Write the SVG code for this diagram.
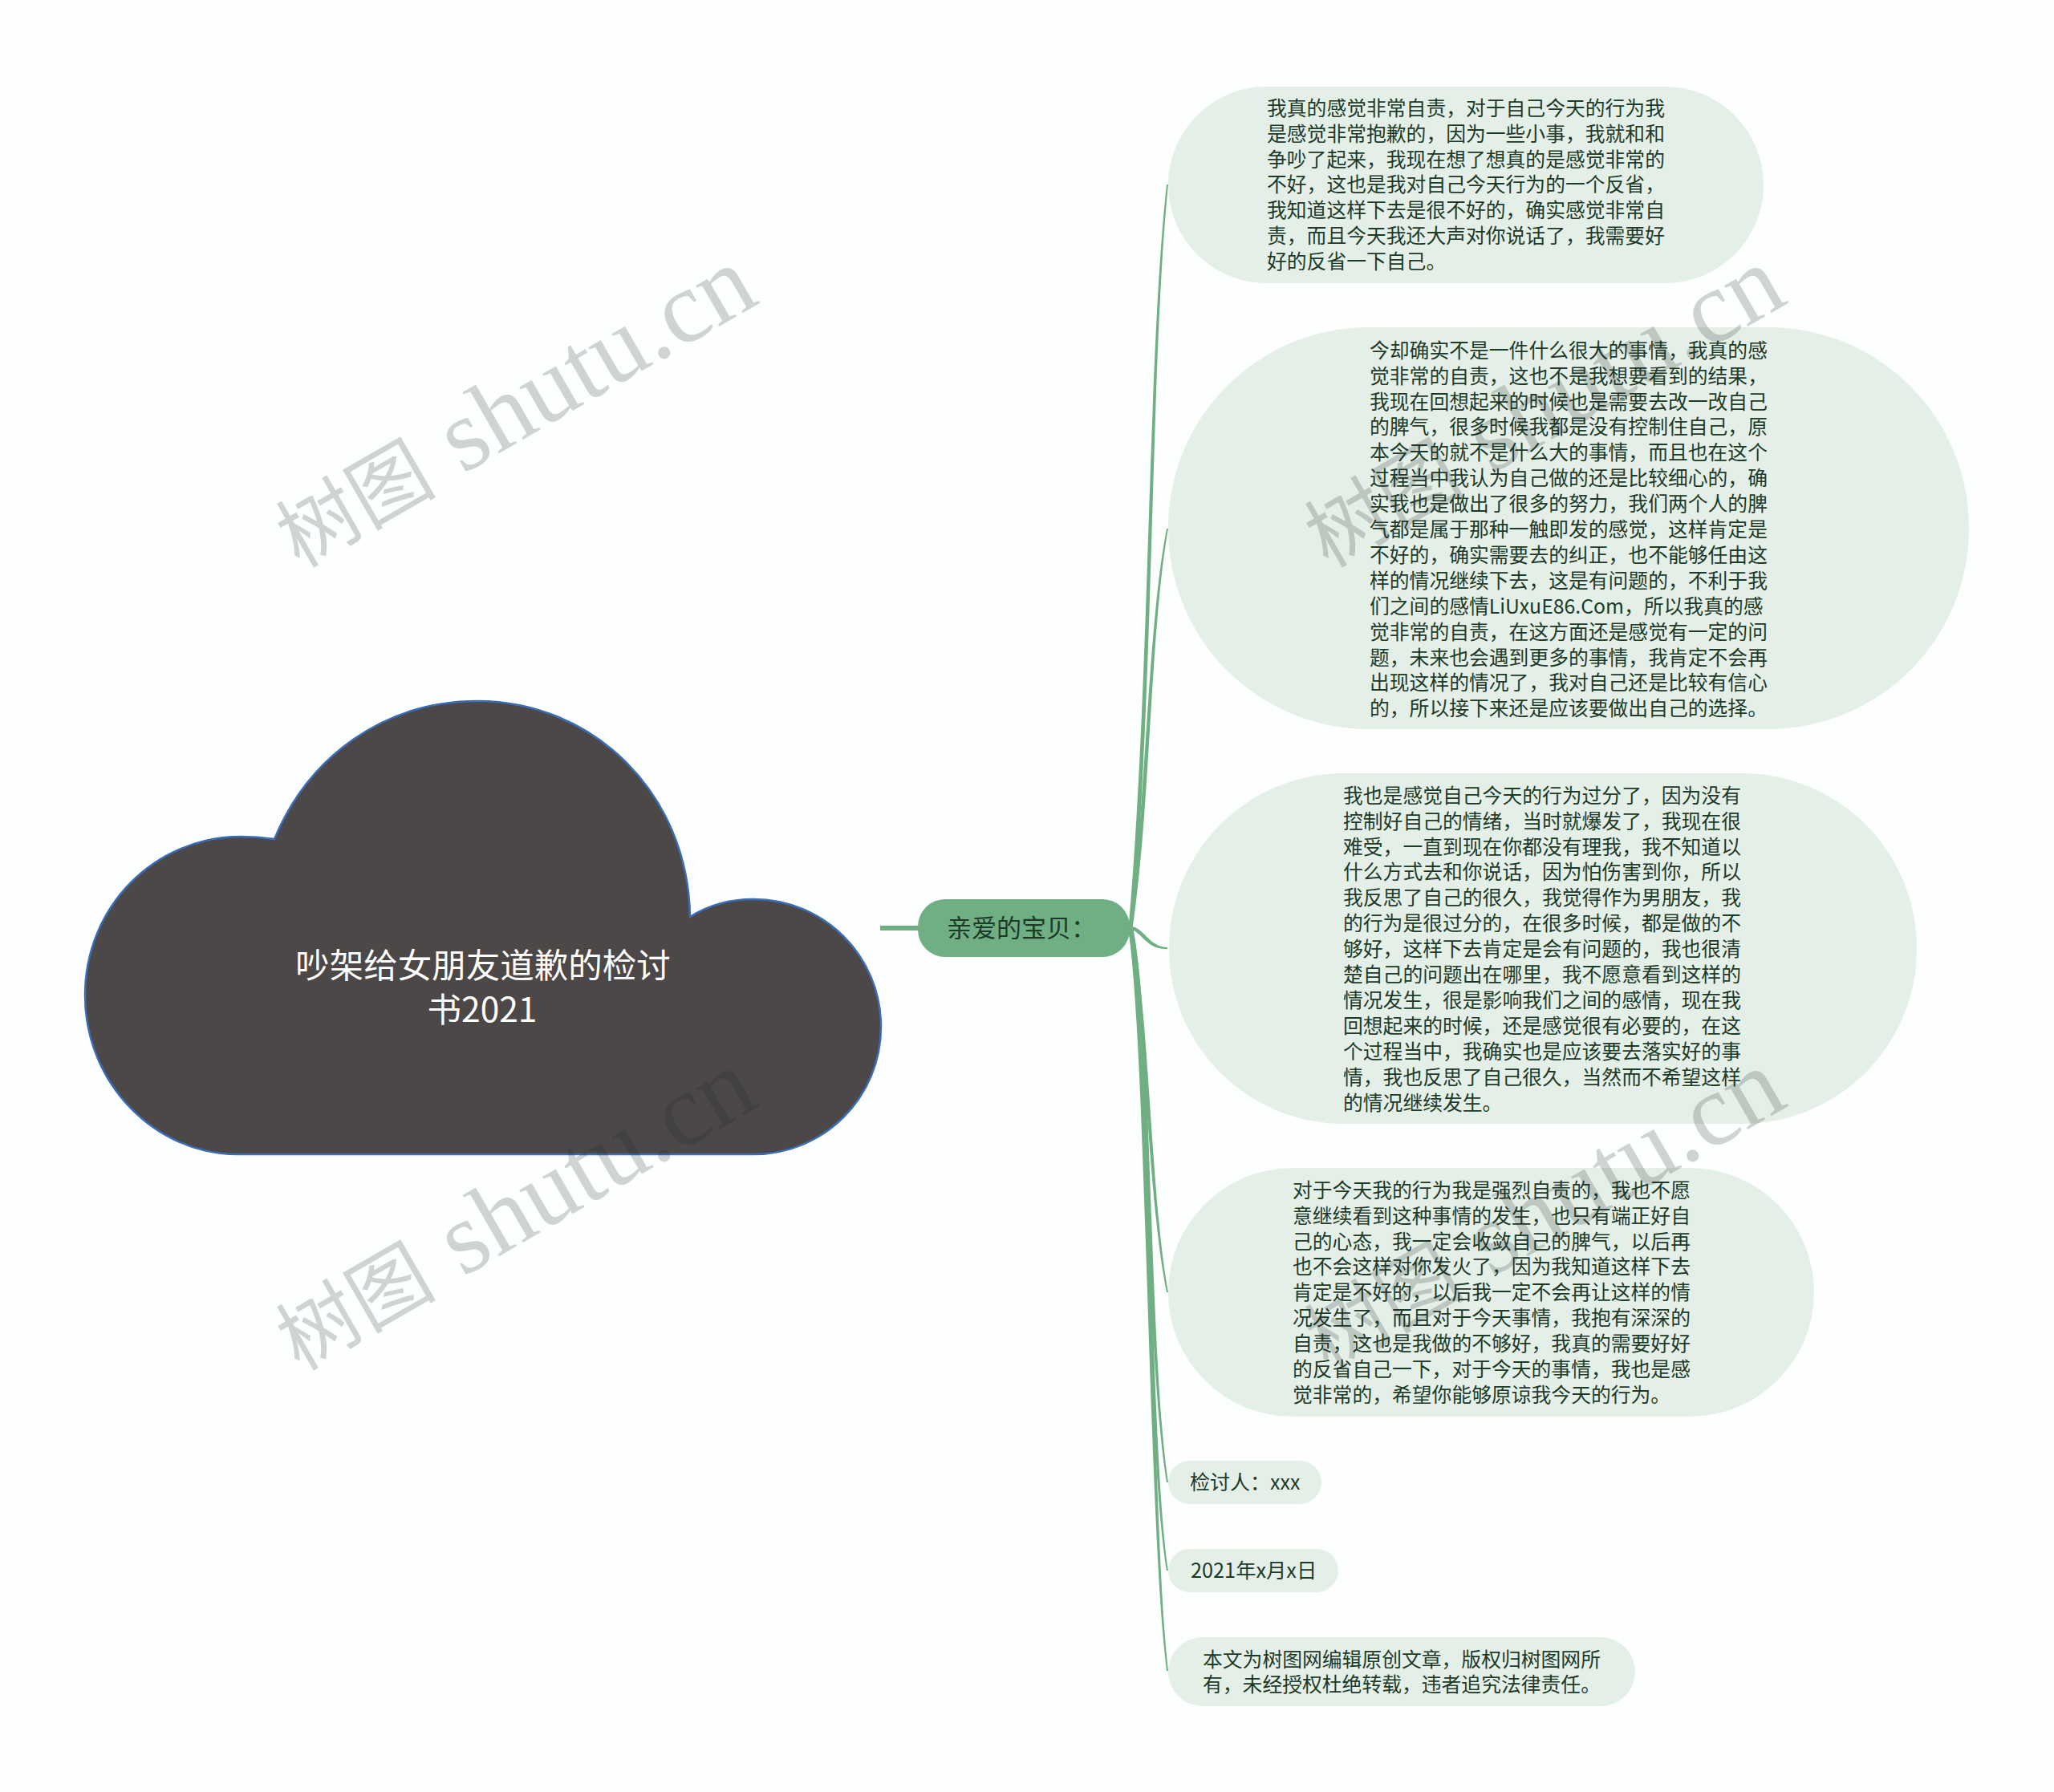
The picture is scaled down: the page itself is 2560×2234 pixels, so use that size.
<svg xmlns="http://www.w3.org/2000/svg" width="2560" height="2234" viewBox="0 0 2560 2234">
<style>
text{font-family:"Noto Sans CJK SC","Noto Sans",sans-serif}
.leaf{fill:#e4efe7}
.t{font-size:24.8px;fill:#1d3a29}
.c{fill:#70ae83}
.wm{font-family:"Liberation Serif","Noto Sans CJK SC",serif;font-size:128px;fill:#1a2a2a;fill-opacity:.2}
.wc{font-family:"Noto Sans CJK SC",serif;font-size:100px}
</style>
<rect width="2560" height="2234" fill="#fcfffe"/>
<g id="connectors">
<rect class="c" x="1097" y="1154" width="48" height="6"/>
<path class="c" d="M1406.5,1157C1433.5,850 1430,450 1454,230L1456,230C1434,450 1438.5,850 1411.5,1157Z"/>
<path class="c" d="M1406.5,1157C1429.5,1000 1429,790 1454,659L1456,659C1433,790 1434.5,1000 1411.5,1157Z"/>
<path class="c" d="M1409,1155C1425,1155 1432,1180.8 1455,1181L1455,1183C1429,1184.5 1422,1160 1409,1159Z"/>
<path class="c" d="M1406.5,1157C1427.5,1270 1431,1500 1454,1611L1456,1611C1435,1500 1432.5,1270 1411.5,1157Z"/>
<path class="c" d="M1406,1157C1428.5,1260 1428,1690 1454,1848L1456,1848C1432,1690 1435.5,1260 1412,1157Z"/>
<path class="c" d="M1406,1157C1428.5,1280 1428,1800 1454,1958L1456,1958C1432,1800 1435.5,1280 1412,1157Z"/>
<path class="c" d="M1406,1157C1428.5,1300 1431,1900 1454,2083L1456,2083C1435,1900 1435.5,1300 1412,1157Z"/>
</g>
<g id="root">
<path d="M296,1439L939,1439C1027,1439 1098,1368 1098,1280C1098,1192 1027,1121 939,1121C910,1121 882,1129 860,1143C858,990 740,874 595,874C480,874 385,942 342,1046C328,1044 314,1043 300,1043C193,1043 106,1130 106,1241C106,1350 193,1439 296,1439Z" fill="#4d4848" stroke="#3a6db5" stroke-width="2.5"/>
<text font-size="42.5" fill="#fff" text-anchor="middle"><tspan x="602" y="1219">吵架给女朋友道歉的检讨</tspan><tspan x="601" y="1274">书2021</tspan></text>
</g>
<g id="branch">
<rect x="1144" y="1121" width="264" height="72" rx="34" fill="#70ae83"/>
<text font-size="31" fill="#1d3a29" x="1180" y="1168">亲爱的宝贝：</text>
</g>
<g id="leaf1">
<rect class="leaf" x="1456" y="108" width="742" height="245" rx="122.5"/>
<text class="t"><tspan x="1579" y="143.7">我真的感觉非常自责，对于自己今天的行为我</tspan><tspan x="1579" dy="31.9">是感觉非常抱歉的，因为一些小事，我就和和</tspan><tspan x="1579" dy="31.9">争吵了起来，我现在想了想真的是感觉非常的</tspan><tspan x="1579" dy="31.9">不好，这也是我对自己今天行为的一个反省，</tspan><tspan x="1579" dy="31.9">我知道这样下去是很不好的，确实感觉非常自</tspan><tspan x="1579" dy="31.9">责，而且今天我还大声对你说话了，我需要好</tspan><tspan x="1579" dy="31.9">好的反省一下自己。</tspan></text>
</g>
<g id="leaf2">
<rect class="leaf" x="1456" y="408" width="998" height="501" rx="250"/>
<text class="t"><tspan x="1707" y="445.7">今却确实不是一件什么很大的事情，我真的感</tspan><tspan x="1707" dy="31.9">觉非常的自责，这也不是我想要看到的结果，</tspan><tspan x="1707" dy="31.9">我现在回想起来的时候也是需要去改一改自己</tspan><tspan x="1707" dy="31.9">的脾气，很多时候我都是没有控制住自己，原</tspan><tspan x="1707" dy="31.9">本今天的就不是什么大的事情，而且也在这个</tspan><tspan x="1707" dy="31.9">过程当中我认为自己做的还是比较细心的，确</tspan><tspan x="1707" dy="31.9">实我也是做出了很多的努力，我们两个人的脾</tspan><tspan x="1707" dy="31.9">气都是属于那种一触即发的感觉，这样肯定是</tspan><tspan x="1707" dy="31.9">不好的，确实需要去的纠正，也不能够任由这</tspan><tspan x="1707" dy="31.9">样的情况继续下去，这是有问题的，不利于我</tspan><tspan x="1707" dy="31.9">们之间的感情LiUxuE86.Com，所以我真的感</tspan><tspan x="1707" dy="31.9">觉非常的自责，在这方面还是感觉有一定的问</tspan><tspan x="1707" dy="31.9">题，未来也会遇到更多的事情，我肯定不会再</tspan><tspan x="1707" dy="31.9">出现这样的情况了，我对自己还是比较有信心</tspan><tspan x="1707" dy="31.9">的，所以接下来还是应该要做出自己的选择。</tspan></text>
</g>
<g id="leaf3">
<rect class="leaf" x="1457" y="964" width="932" height="437" rx="218"/>
<text class="t"><tspan x="1674" y="1000.7">我也是感觉自己今天的行为过分了，因为没有</tspan><tspan x="1674" dy="31.9">控制好自己的情绪，当时就爆发了，我现在很</tspan><tspan x="1674" dy="31.9">难受，一直到现在你都没有理我，我不知道以</tspan><tspan x="1674" dy="31.9">什么方式去和你说话，因为怕伤害到你，所以</tspan><tspan x="1674" dy="31.9">我反思了自己的很久，我觉得作为男朋友，我</tspan><tspan x="1674" dy="31.9">的行为是很过分的，在很多时候，都是做的不</tspan><tspan x="1674" dy="31.9">够好，这样下去肯定是会有问题的，我也很清</tspan><tspan x="1674" dy="31.9">楚自己的问题出在哪里，我不愿意看到这样的</tspan><tspan x="1674" dy="31.9">情况发生，很是影响我们之间的感情，现在我</tspan><tspan x="1674" dy="31.9">回想起来的时候，还是感觉很有必要的，在这</tspan><tspan x="1674" dy="31.9">个过程当中，我确实也是应该要去落实好的事</tspan><tspan x="1674" dy="31.9">情，我也反思了自己很久，当然而不希望这样</tspan><tspan x="1674" dy="31.9">的情况继续发生。</tspan></text>
</g>
<g id="leaf4">
<rect class="leaf" x="1456" y="1456" width="805" height="310" rx="155"/>
<text class="t"><tspan x="1611" y="1492.7">对于今天我的行为我是强烈自责的，我也不愿</tspan><tspan x="1611" dy="31.9">意继续看到这种事情的发生，也只有端正好自</tspan><tspan x="1611" dy="31.9">己的心态，我一定会收敛自己的脾气，以后再</tspan><tspan x="1611" dy="31.9">也不会这样对你发火了，因为我知道这样下去</tspan><tspan x="1611" dy="31.9">肯定是不好的，以后我一定不会再让这样的情</tspan><tspan x="1611" dy="31.9">况发生了，而且对于今天事情，我抱有深深的</tspan><tspan x="1611" dy="31.9">自责，这也是我做的不够好，我真的需要好好</tspan><tspan x="1611" dy="31.9">的反省自己一下，对于今天的事情，我也是感</tspan><tspan x="1611" dy="31.9">觉非常的，希望你能够原谅我今天的行为。</tspan></text>
</g>
<g id="leaf5">
<rect class="leaf" x="1456" y="1821" width="191" height="54" rx="27"/>
<text class="t" x="1483" y="1857" style="font-size:25px">检讨人：xxx</text>
</g>
<g id="leaf6">
<rect class="leaf" x="1456" y="1931" width="212" height="54" rx="27"/>
<text class="t" x="1484" y="1967" style="font-size:25.3px">2021年x月x日</text>
</g>
<g id="leaf7">
<rect class="leaf" x="1456" y="2041" width="582" height="86" rx="43"/>
<text class="t"><tspan x="1499" y="2077.5">本文为树图网编辑原创文章，版权归树图网所</tspan><tspan x="1499" dy="31.9">有，未经授权杜绝转载，违者追究法律责任。</tspan></text>
</g>
<g id="watermarks">
<text class="wm" transform="translate(373,709) rotate(-30)"><tspan class="wc">树图</tspan><tspan dx="35">shutu.cn</tspan></text>
<text class="wm" transform="translate(1655,709) rotate(-30)"><tspan class="wc">树图</tspan><tspan dx="35">shutu.cn</tspan></text>
<text class="wm" transform="translate(373,1710) rotate(-30)"><tspan class="wc">树图</tspan><tspan dx="35">shutu.cn</tspan></text>
<text class="wm" transform="translate(1655,1710) rotate(-30)"><tspan class="wc">树图</tspan><tspan dx="35">shutu.cn</tspan></text>
</g>
</svg>
